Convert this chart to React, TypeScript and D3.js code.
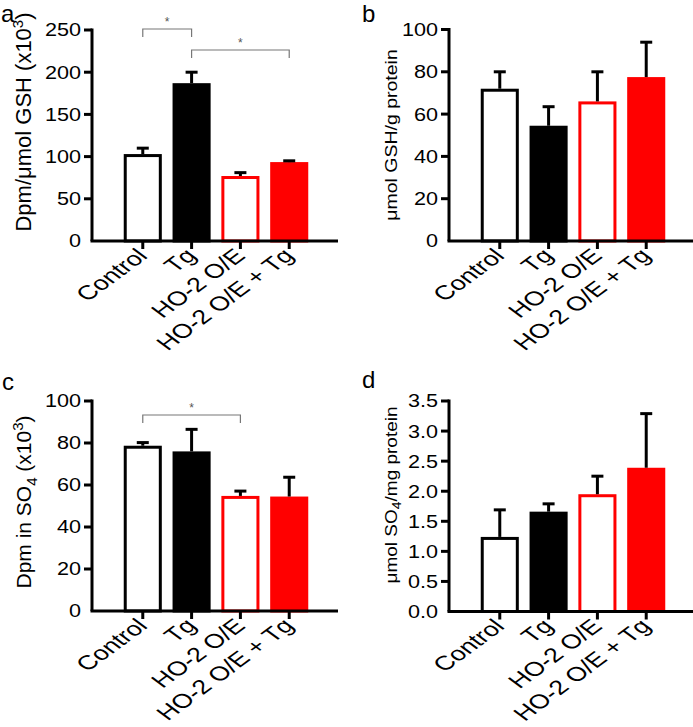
import React from 'react';
import * as d3 from 'd3';

const groups = ["Control", "Tg", "HO-2 O/E", "HO-2 O/E + Tg"];

// panel a: Dpm/umol GSH (x10^3)
const gshDpmMean = [103, 187, 77, 93.5];
const gshDpmSem = [7, 13, 4, 1.5];
// panel b: umol GSH/g protein
const gshMean = [72, 54.5, 66, 77.5];
const gshSem = [8, 9, 14, 16.5];
// panel c: Dpm in SO4 (x10^3)
const so4DpmMean = [78.7, 76, 54.8, 54.5];
const so4DpmSem = [1.5, 10.5, 2.3, 9.2];
// panel d: umol SO4/mg protein
const so4Mean = [1.24, 1.66, 1.95, 2.39];
const so4Sem = [0.45, 0.13, 0.3, 0.9];

const ticksA = [0, 50, 100, 150, 200, 250];
const ticks100 = [0, 20, 40, 60, 80, 100];
const ticksD = [0, 0.5, 1.0, 1.5, 2.0, 2.5, 3.0, 3.5];

const fills = ["#fff", "#000", "#fff", "#ff0000"];
const strokes = ["#000", "#000", "#ff0000", "#ff0000"];

const FONT = "'Liberation Sans', Arial, Helvetica, sans-serif";

type Bracket = { from: number; to: number; y: number };

interface PanelProps {
  letter: string;
  letterX: number;
  letterY: number;
  x0: number;        // y-axis position
  yBottom: number;
  yTop: number;
  xEnd: number;
  domainMax: number;
  ticks: number[];
  fmt: (v: number) => string;
  means: number[];
  sems: number[];
  ylabel: React.ReactNode;
  labelX: number;
  labelY: number;
  labelSize: number;
  labelSx: number;
  brackets?: Bracket[];
}

const Panel: React.FC<PanelProps> = (p) => {
  const y = d3.scaleLinear().domain([0, p.domainMax]).range([p.yBottom, p.yTop]);
  const x = d3.scaleBand<string>()
    .domain(groups)
    .range([p.x0 + 21, p.x0 + 227])
    .paddingInner(0.22)
    .paddingOuter(0.22);
  const bw = x.bandwidth();
  const cx = (g: string) => (x(g) as number) + bw / 2;

  return (
    <g fontFamily={FONT}>
      <text x={p.letterX} y={p.letterY} fontSize={24}>{p.letter}</text>

      {/* bars */}
      {groups.map((g, i) => (
        <rect key={g}
          x={(x(g) as number) + 1.5}
          y={y(p.means[i]) + 1.5}
          width={bw - 3}
          height={y(0) - y(p.means[i]) - 1.5}
          fill={fills[i]} stroke={strokes[i]} strokeWidth={3} />
      ))}

      {/* error bars */}
      {groups.map((g, i) => (
        <g key={g} stroke="#000" strokeWidth={3}>
          <line x1={cx(g)} x2={cx(g)} y1={y(p.means[i])} y2={y(p.means[i] + p.sems[i])} />
          <line x1={cx(g) - 6} x2={cx(g) + 6} y1={y(p.means[i] + p.sems[i])} y2={y(p.means[i] + p.sems[i])} />
        </g>
      ))}

      {/* y axis */}
      <line x1={p.x0} x2={p.x0} y1={y(0)} y2={y(p.domainMax) - 1.5} stroke="#000" strokeWidth={3} />
      {p.ticks.map(t => (
        <g key={t}>
          {t !== 0 && <line x1={p.x0 - 8} x2={p.x0} y1={y(t)} y2={y(t)} stroke="#000" strokeWidth={3} />}
          <text transform={`translate(${p.x0 - 11},${y(t)}) scale(1.2,1)`} dy="0.36em"
            textAnchor="end" fontSize={18}>{p.fmt(t)}</text>
        </g>
      ))}

      {/* x axis */}
      <line x1={p.x0 - 1.5} x2={p.xEnd} y1={y(0)} y2={y(0)} stroke="#000" strokeWidth={3} />
      {groups.map(g => (
        <g key={g}>
          <line x1={cx(g)} x2={cx(g)} y1={y(0)} y2={y(0) + 8} stroke="#000" strokeWidth={3} />
          <text transform={`translate(${cx(g) + 6},${y(0) + 16}) scale(1.35,1) rotate(-45)`}
            textAnchor="end" fontSize={20}>{g}</text>
        </g>
      ))}

      {/* y label */}
      <text transform={`translate(${p.labelX},${p.labelY}) scale(${p.labelSx},1) rotate(-90)`}
        textAnchor="middle" fontSize={p.labelSize}>
        {p.ylabel}
      </text>

      {/* significance brackets */}
      {(p.brackets || []).map((b, k) => {
        const x1 = cx(groups[b.from]);
        const x2 = cx(groups[b.to]);
        return (
          <g key={k} stroke="#777" strokeWidth={1.2} fill="none">
            <path d={`M${x1},${b.y + 8}V${b.y}H${x2}V${b.y + 8}`} />
            <text x={(x1 + x2) / 2} y={b.y - 3} textAnchor="middle" fontSize={12} fill="#555" stroke="none">*</text>
          </g>
        );
      })}
    </g>
  );
};

const fmtInt = (v: number) => d3.format("d")(v);
const fmt1 = (v: number) => d3.format(".1f")(v);

export default function App() {
  return (
    <svg width={693} height={727} style={{ position: "absolute", left: 0, top: 0, background: "#fff" }}>
      <Panel letter="a" letterX={1} letterY={22} x0={92} yBottom={241} yTop={30} xEnd={338} domainMax={250}
        ticks={ticksA} fmt={fmtInt} means={gshDpmMean} sems={gshDpmSem}
        labelX={31} labelY={122} labelSize={22} labelSx={1}
        ylabel={<>Dpm/μmol GSH (x10<tspan dy="-8" fontSize={15}>3</tspan><tspan dy="8">)</tspan></>}
        brackets={[{ from: 0, to: 1, y: 29 }, { from: 1, to: 3, y: 50 }]} />
      <Panel letter="b" letterX={362} letterY={22} x0={449} yBottom={241} yTop={29.5} xEnd={693} domainMax={100}
        ticks={ticks100} fmt={fmtInt} means={gshMean} sems={gshSem}
        labelX={397} labelY={135} labelSize={19.5} labelSx={0.85}
        ylabel={<>μmol GSH/g protein</>} />
      <Panel letter="c" letterX={2} letterY={390} x0={92} yBottom={611} yTop={401} xEnd={338} domainMax={100}
        ticks={ticks100} fmt={fmtInt} means={so4DpmMean} sems={so4DpmSem}
        labelX={31} labelY={502} labelSize={21} labelSx={1}
        ylabel={<>Dpm in SO<tspan dy="6" fontSize={15}>4</tspan><tspan dy="-6"> (x10</tspan><tspan dy="-8" fontSize={15}>3</tspan><tspan dy="8">)</tspan></>}
        brackets={[{ from: 0, to: 2, y: 415 }]} />
      <Panel letter="d" letterX={362} letterY={388} x0={449} yBottom={611.5} yTop={401} xEnd={693} domainMax={3.5}
        ticks={ticksD} fmt={fmt1} means={so4Mean} sems={so4Sem}
        labelX={397} labelY={495} labelSize={19} labelSx={0.85}
        ylabel={<>μmol SO<tspan dy="5" fontSize={14}>4</tspan><tspan dy="-5">/mg protein</tspan></>} />
    </svg>
  );
}
